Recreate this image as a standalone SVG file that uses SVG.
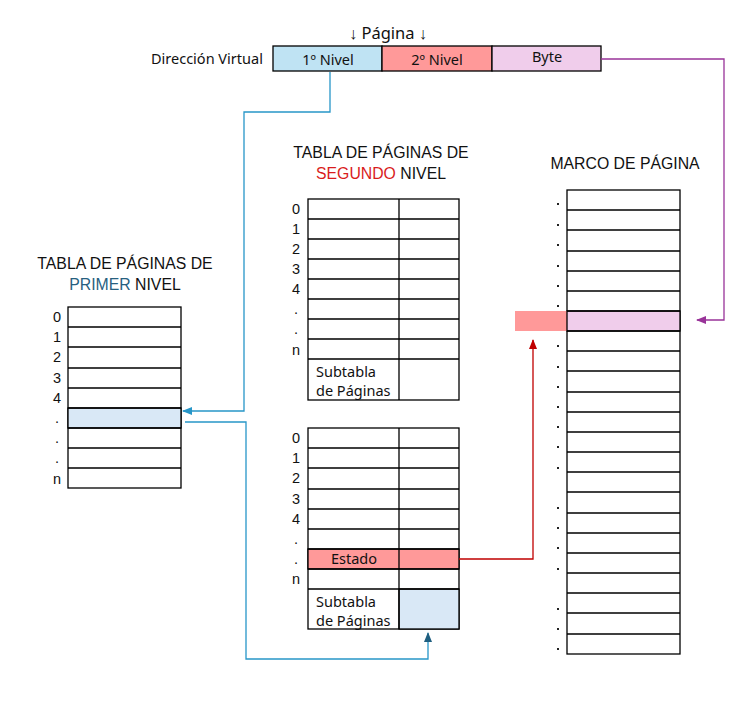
<svg xmlns="http://www.w3.org/2000/svg" width="755" height="706" viewBox="0 0 755 706">
<style>
.cell{fill:#fff;stroke:#000;stroke-width:1.3}
.ln{stroke:#000;stroke-width:1.3;fill:none}
.t{font-family:"Liberation Sans",Arial,sans-serif;font-size:15.8px;fill:#111}
.n{font-family:"Liberation Sans",Arial,sans-serif;font-size:14.5px;fill:#111;text-anchor:middle}
.a{font-family:"Noto Sans","Open Sans",sans-serif;font-size:14.5px;fill:#111}
.dot{fill:#222}
</style>
<defs>
<marker id="ab" markerUnits="userSpaceOnUse" markerWidth="10" markerHeight="10" viewBox="0 0 10 10" refX="9" refY="5" orient="auto"><path d="M0,1 L10,5 L0,9 Z" fill="#2796c8"/></marker>
<marker id="ab2" markerUnits="userSpaceOnUse" markerWidth="10" markerHeight="10" viewBox="0 0 10 10" refX="9" refY="5" orient="auto"><path d="M0,1 L10,5 L0,9 Z" fill="#1f5f80"/></marker>
<marker id="ar" markerUnits="userSpaceOnUse" markerWidth="10" markerHeight="10" viewBox="0 0 10 10" refX="9" refY="5" orient="auto"><path d="M0,1 L10,5 L0,9 Z" fill="#c00000"/></marker>
<marker id="ap" markerUnits="userSpaceOnUse" markerWidth="10" markerHeight="10" viewBox="0 0 10 10" refX="9" refY="5" orient="auto"><path d="M0,1 L10,5 L0,9 Z" fill="#993399"/></marker>
</defs>
<rect width="755" height="706" fill="#fff"/>

<g id="direccion">
<text class="a" x="388" y="39" text-anchor="middle" style="font-size:16.5px">↓ Página ↓</text>
<text class="a" x="151" y="64">Dirección Virtual</text>
<rect x="273" y="46" width="109" height="25" fill="#bfe3f3" stroke="#000" stroke-width="1.3"/>
<rect x="382" y="46" width="110" height="25" fill="#ff9999" stroke="#000" stroke-width="1.3"/>
<rect x="492" y="46" width="109" height="25" fill="#f0cdeb" stroke="#000" stroke-width="1.3"/>
<text class="a" x="328" y="65" text-anchor="middle">1º Nivel</text>
<text class="a" x="437" y="65" text-anchor="middle">2º Nivel</text>
<text class="a" x="547" y="62" text-anchor="middle">Byte</text>
</g>

<g id="tabla1">
<text class="t" x="125" y="269" text-anchor="middle">TABLA DE PÁGINAS DE</text>
<text class="t" x="125" y="290" text-anchor="middle"><tspan fill="#27607f">PRIMER</tspan> NIVEL</text>
<rect class="cell" x="68" y="307" width="113" height="181"/>
<rect x="68" y="408" width="113" height="20" fill="#d9e8f6" stroke="#000" stroke-width="1.3"/>
<path class="ln" d="M68,327H181M68,347H181M68,368H181M68,388H181M68,408H181M68,428H181M68,448H181M68,468H181"/>
<text class="n" x="57" y="322">0</text>
<text class="n" x="57" y="342">1</text>
<text class="n" x="57" y="362">2</text>
<text class="n" x="57" y="383">3</text>
<text class="n" x="57" y="403">4</text>
<text class="n" x="57" y="423">.</text>
<text class="n" x="57" y="443">.</text>
<text class="n" x="57" y="463">.</text>
<text class="n" x="57" y="484">n</text>
</g>

<g id="tabla2a">
<text class="t" x="381" y="158" text-anchor="middle">TABLA DE PÁGINAS DE</text>
<text class="t" x="381" y="179" text-anchor="middle"><tspan fill="#d91c1c">SEGUNDO</tspan> NIVEL</text>
<rect class="cell" x="308" y="199" width="151" height="201"/>
<path class="ln" d="M399,199V400M308,219H459M308,239H459M308,259H459M308,279H459M308,299H459M308,319H459M308,339H459M308,359H459"/>
<text class="n" x="296" y="214">0</text>
<text class="n" x="296" y="234">1</text>
<text class="n" x="296" y="254">2</text>
<text class="n" x="296" y="274">3</text>
<text class="n" x="296" y="294">4</text>
<text class="n" x="296" y="314">.</text>
<text class="n" x="296" y="334">.</text>
<text class="n" x="296" y="355">n</text>
<text class="a" x="316" y="377">Subtabla</text>
<text class="a" x="316" y="396">de Páginas</text>
</g>

<g id="tabla2b">
<rect class="cell" x="308" y="428" width="151" height="201"/>
<rect x="308" y="549" width="151" height="20" fill="#ff9999" stroke="#000" stroke-width="1.3"/>
<rect x="399" y="589" width="60" height="40" fill="#d9e8f6" stroke="#000" stroke-width="1.3"/>
<path class="ln" d="M399,428V629M308,448H459M308,468H459M308,489H459M308,509H459M308,529H459M308,549H459M308,569H459M308,589H459"/>
<text class="n" x="296" y="443">0</text>
<text class="n" x="296" y="463">1</text>
<text class="n" x="296" y="483">2</text>
<text class="n" x="296" y="504">3</text>
<text class="n" x="296" y="524">4</text>
<text class="n" x="296" y="544">.</text>
<text class="n" x="296" y="564">.</text>
<text class="n" x="296" y="584">n</text>
<text class="a" x="354" y="564" text-anchor="middle">Estado</text>
<text class="a" x="316" y="607">Subtabla</text>
<text class="a" x="316" y="626">de Páginas</text>
</g>

<g id="marco">
<text class="t" x="625" y="169" text-anchor="middle">MARCO DE PÁGINA</text>
<rect class="cell" x="567" y="190" width="113" height="464"/>
<rect x="515" y="311" width="52" height="20" fill="#ff9999"/>
<rect x="567" y="311" width="113" height="20" fill="#f0cdeb" stroke="#000" stroke-width="1.3"/>
<path class="ln" d="M567,210H680M567,230H680M567,251H680M567,271H680M567,291H680M567,311H680M567,331H680M567,351H680M567,371H680M567,392H680M567,412H680M567,432H680M567,452H680M567,472H680M567,492H680M567,513H680M567,533H680M567,553H680M567,573H680M567,593H680M567,613H680M567,634H680"/>
<g class="dot">
<rect x="557" y="203" width="2" height="2"/>
<rect x="557" y="224" width="2" height="2"/>
<rect x="557" y="244" width="2" height="2"/>
<rect x="557" y="265" width="2" height="2"/>
<rect x="557" y="285" width="2" height="2"/>
<rect x="557" y="305" width="2" height="2"/>
<rect x="557" y="345" width="2" height="2"/>
<rect x="557" y="366" width="2" height="2"/>
<rect x="557" y="386" width="2" height="2"/>
<rect x="557" y="406" width="2" height="2"/>
<rect x="557" y="426" width="2" height="2"/>
<rect x="557" y="446" width="2" height="2"/>
<rect x="557" y="467" width="2" height="2"/>
<rect x="557" y="507" width="2" height="2"/>
<rect x="557" y="527" width="2" height="2"/>
<rect x="557" y="547" width="2" height="2"/>
<rect x="557" y="568" width="2" height="2"/>
<rect x="557" y="608" width="2" height="2"/>
<rect x="557" y="628" width="2" height="2"/>
<rect x="557" y="648" width="2" height="2"/>
</g>
</g>

<g id="connectors" fill="none" stroke-width="1.3">
<path d="M330,72V112H244V411H183" stroke="#2796c8" marker-end="url(#ab)"/>
<path d="M185,422H246V659H428V633" stroke="#2796c8" marker-end="url(#ab2)"/>
<path d="M459,559H533V340" stroke="#c00000" marker-end="url(#ar)"/>
<path d="M601,59H724V320H697" stroke="#993399" marker-end="url(#ap)"/>
</g>
</svg>
